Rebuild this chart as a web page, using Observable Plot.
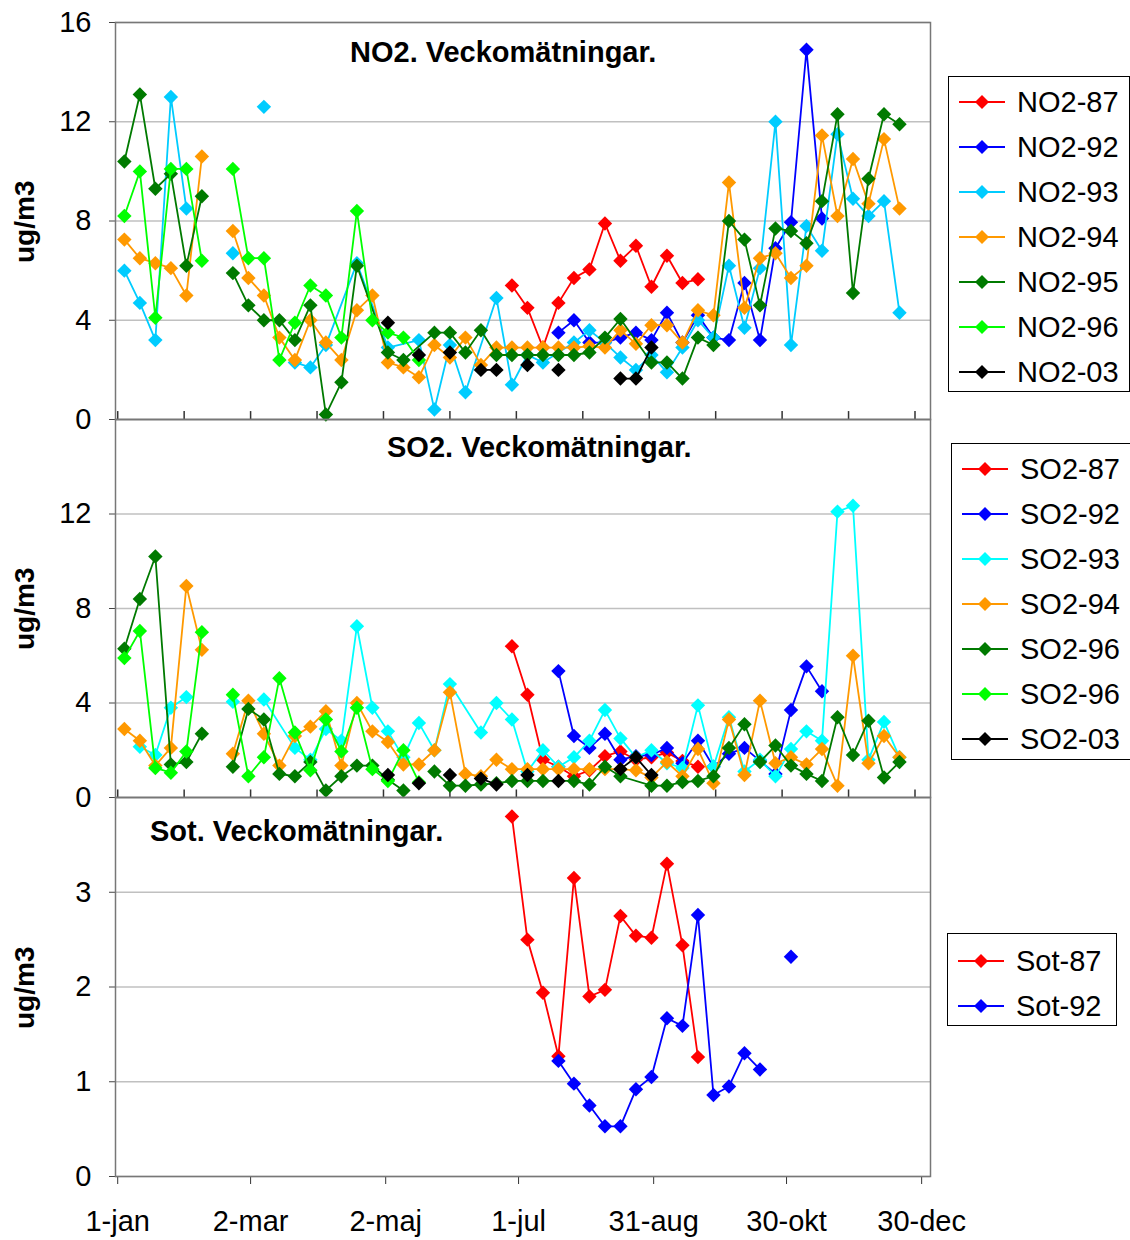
<!DOCTYPE html>
<html>
<head>
<meta charset="utf-8">
<script src="https://cdn.jsdelivr.net/npm/d3@7"></script>
<script src="https://cdn.jsdelivr.net/npm/@observablehq/plot@0.6"></script>
<style>
  body { margin: 0; background: #fff; font-family: "Liberation Sans", Arial, sans-serif; }
  #wrap { position: relative; width: 1130px; height: 1240px; overflow: hidden; }
  .panel { position: absolute; left: 0; }
  .ttl { position: absolute; font-weight: bold; font-size: 29px; white-space: nowrap; }
  .ylab { position: absolute; font-weight: bold; font-size: 28px; transform: rotate(-90deg); transform-origin: left top; white-space: nowrap; }
  .legend { position: absolute; border: 1px solid #000; background: #fff; box-sizing: border-box; }
  .legend .row { position: absolute; left: 8px; height: 30px; display: flex; align-items: center; font-size: 29px; }
  .legend svg { margin-right: 10px; }
</style>
</head>
<body>
<div id="wrap"></div>
<script>
// week index -> day of year: 3 + 7*w ; null = gap, 'x' = no point but line continues
const no2_87 = [5.4,4.5,2.9,4.7,5.7,6.05,7.9,6.4,7.0,5.35,6.6,5.5,5.65]            // from w25
const no2_92 = [3.5,4.0,3.1,3.1,3.3,3.5,3.2,4.3,3.1,4.2,3.3,3.2,5.5,3.2,6.9,7.95,14.9,8.1] // from w28
const no2_93 = [6.0,4.7,3.2,13.0,8.5,null,null,6.7,null,12.6,null,2.3,2.1,3.0,'x',6.3,'x',2.9,'x',3.2,0.4,3.0,1.1,'x',4.9,1.4,2.6,2.3,'x',3.1,3.6,3.1,2.5,2.0,2.6,1.9,2.9,4.0,3.3,6.2,3.7,6.1,12.0,3.0,7.8,6.8,11.5,8.9,8.2,8.8,4.3]
const no2_94 = [7.25,6.5,6.3,6.1,5.0,10.6,null,7.6,5.7,5.0,3.3,2.4,4.0,3.1,2.4,4.4,5.0,2.3,2.1,1.7,3.0,2.5,3.3,2.2,2.9,2.9,2.9,2.9,2.9,2.9,2.95,2.9,3.6,3.05,3.8,3.8,3.1,4.4,4.2,9.55,4.5,6.5,6.7,5.7,6.2,11.45,8.2,10.5,8.7,11.3,8.5]
const no2_95 = [10.4,13.1,9.3,9.9,6.2,9.0,null,5.9,4.6,4.0,4.0,3.2,4.6,0.2,1.5,6.2,'x',2.7,2.4,'x',3.5,3.5,2.7,3.6,2.6,2.6,2.6,2.6,2.6,2.6,2.7,3.3,4.05,'x',2.3,2.3,1.65,3.3,3.0,8.0,7.25,4.6,7.7,7.6,7.1,8.8,12.3,5.1,9.7,12.3,11.9]
const no2_96 = [8.2,10.0,4.1,10.1,10.1,6.4,null,10.1,6.5,6.5,2.4,3.9,5.4,5.0,3.3,8.4,4.0,3.5,3.3,2.4]
const no2_03 = [3.9,null,2.6,null,2.7,null,2.0,2.0,null,2.2,null,2.0,null,null,null,1.65,1.65,2.9] // from w17

const so2_87 = [6.4,4.35,1.6,1.3,0.9,1.15,1.75,1.95,1.6,1.7,1.9,1.55,1.3]          // from w25
const so2_92 = [5.35,2.6,2.1,2.7,1.6,1.75,1.8,2.1,1.45,2.4,1.3,1.85,2.1,1.55,1.0,3.7,5.55,4.5] // from w28
const so2_93 = [null,2.15,1.8,3.8,4.25,null,null,4.05,null,4.15,'x',2.1,1.6,2.9,2.4,7.25,3.8,2.8,1.7,3.15,2.0,4.8,'x',2.75,4.0,3.3,1.1,2.0,1.3,1.7,2.4,3.7,2.5,1.7,2.0,1.45,1.25,3.9,1.3,3.4,1.1,1.6,0.9,2.05,2.8,2.4,12.1,12.35,1.6,3.2,1.7]
const so2_94 = [2.9,2.4,1.35,2.1,8.95,6.25,null,1.85,4.1,2.7,1.35,2.6,3.0,3.65,1.35,4.0,2.8,2.35,1.4,1.4,2.0,4.45,1.0,0.9,1.6,1.2,1.2,1.2,1.2,1.2,1.2,1.2,1.2,1.15,0.85,1.5,0.9,2.05,0.6,3.3,0.95,4.1,1.45,1.7,1.4,2.05,0.5,6.0,1.45,2.6,1.7]
const so2_96 = [6.3,8.4,10.2,1.4,1.5,2.7,null,1.3,3.75,3.3,1.0,0.9,1.5,0.3,0.9,1.35,1.35,0.75,0.3,null,1.1,0.5,0.5,0.55,0.6,0.7,0.7,0.7,'x',0.7,0.55,1.3,0.9,'x',0.5,0.5,0.65,0.7,0.9,2.1,3.1,1.5,2.2,1.35,1.0,0.7,3.4,1.8,3.25,0.85,1.5]
const so2_96b = [5.9,7.05,1.25,1.05,1.95,7.0,null,4.35,0.9,1.7,5.05,2.75,1.15,3.3,1.95,3.8,1.2,0.7,2.0,0.65]
const so2_03 = [0.95,null,0.6,null,0.95,null,0.8,0.55,null,0.95,null,0.7,null,null,null,1.2,1.7,0.95] // from w17

const sot_87 = [3.8,2.5,1.94,1.27,3.15,1.9,1.97,2.75,2.54,2.52,3.3,2.44,1.26]     // from w25
const sot_92 = [1.22,0.98,0.75,0.53,0.53,0.92,1.05,1.67,1.59,2.76,0.86,0.95,1.3,1.13,null,2.32] // from w28

const tickDays = [0,60,121,181,242,302,363]
const tickNames = ['1-jan','2-mar','2-maj','1-jul','31-aug','30-okt','30-dec']
const monthDays = d3.range(0, 366, 30)

const panels = [
  {top: 0, h: 397, mt: 22, max: 16, ticks: [0,4,8,12,16], title: 'NO2. Veckomätningar.', tx: 350, ty: 36,
   legend: {x: 948, y: 76, w: 182, h: 316, ry: 25},
   series: [
    ['NO2-87', no2_87, 25, '#ff0000'], ['NO2-92', no2_92, 28, '#0000ff'], ['NO2-93', no2_93, 0, '#00ccff'],
    ['NO2-94', no2_94, 0, '#ff9900'], ['NO2-95', no2_95, 0, '#007a00'], ['NO2-96', no2_96, 0, '#00ff00'],
    ['NO2-03', no2_03, 17, '#000000']]},
  {top: 419, h: 378, mt: 0, max: 16, ticks: [0,4,8,12], title: 'SO2. Veckomätningar.', tx: 387, ty: 431,
   legend: {x: 951, y: 443, w: 182, h: 317, ry: 25},
   series: [
    ['SO2-87', so2_87, 25, '#ff0000'], ['SO2-92', so2_92, 28, '#0000ff'], ['SO2-93', so2_93, 0, '#00ffff'],
    ['SO2-94', so2_94, 0, '#ff9900'], ['SO2-96', so2_96, 0, '#007a00'], ['SO2-96', so2_96b, 0, '#00ff00'],
    ['SO2-03', so2_03, 17, '#000000']]},
  {top: 797, h: 379, mt: 0, max: 4, ticks: [0,1,2,3], title: 'Sot. Veckomätningar.', tx: 150, ty: 815,
   legend: {x: 947, y: 933, w: 170, h: 93, ry: 27}, last: true,
   series: [['Sot-87', sot_87, 25, '#ff0000'], ['Sot-92', sot_92, 28, '#0000ff']]}
]

const wrap = document.getElementById('wrap')

panels.forEach(p => {
  const marks = [
    Plot.gridY(p.ticks, {stroke: '#c0c0c0', strokeOpacity: 1, strokeWidth: 1.5}),
    Plot.axisY(p.ticks, {tickSize: 6, tickPadding: 18, fontSize: 29, stroke: '#444', label: null, tickFormat: d3.format('d')}),
  ]
  if (!p.last) marks.push(Plot.ruleX(monthDays, {y1: 0, y2: p.max * 0.02, stroke: '#333', strokeWidth: 1.5}))
  else marks.push(Plot.axisX(tickDays, {tickSize: 8, tickPadding: 26, fontSize: 29, label: null, tickFormat: (d, i) => tickNames[i], stroke: '#333'}))
  p.series.forEach(([name, vals, start, color]) => {
    const rows = vals.map((v, i) => ({day: 3 + 7 * (start + i), v}))
    const lineRows = rows.filter(d => d.v !== 'x').map(d => ({day: d.day, v: d.v == null ? NaN : d.v}))
    const pts = rows.filter(d => typeof d.v === 'number')
    marks.push(Plot.line(lineRows, {x: 'day', y: 'v', stroke: color, strokeWidth: 1.8}))
    marks.push(Plot.dot(pts, {x: 'day', y: 'v', symbol: 'diamond2', r: 6.5, fill: color, stroke: 'none'}))
  })
  marks.push(Plot.frame({stroke: '#777', strokeWidth: 1.5}))

  const chart = Plot.plot({
    width: 940,
    height: p.h + p.mt + (p.last ? 64 : 1),
    marginLeft: 115, marginRight: 10, marginTop: p.mt, marginBottom: p.last ? 64 : 1,
    x: {domain: [-1, 367], axis: null},
    y: {domain: [0, p.max], axis: null},
    style: {fontFamily: '"Liberation Sans", Arial, sans-serif', fontSize: '29px', color: '#000', overflow: 'visible'},
    marks
  })
  const box = document.createElement('div')
  box.className = 'panel'
  box.style.top = (p.top) + 'px'
  box.append(chart)
  wrap.append(box)

  const t = document.createElement('div')
  t.className = 'ttl'; t.textContent = p.title
  t.style.left = p.tx + 'px'; t.style.top = p.ty + 'px'
  wrap.append(t)

  const yl = document.createElement('div')
  yl.className = 'ylab'; yl.textContent = 'ug/m3'
  yl.style.left = '9px'; yl.style.top = (p.top + p.mt + p.h / 2 + 42) + 'px'
  wrap.append(yl)

  const L = p.legend
  const lg = document.createElement('div')
  lg.className = 'legend'
  Object.assign(lg.style, {left: L.x + 'px', top: L.y + 'px', width: L.w + 'px', height: L.h + 'px'})
  p.series.forEach(([name, , , color], i) => {
    const r = document.createElement('div')
    r.className = 'row'
    r.style.top = (L.ry - 15 + i * 45) + 'px'
    r.innerHTML = `<svg width="50" height="20"><line x1="2" x2="48" y1="10" y2="10" stroke="${color}" stroke-width="2"/><path d="M25 3 L32 10 L25 17 L18 10 Z" fill="${color}"/></svg>${name}`
    lg.append(r)
  })
  wrap.append(lg)
})
</script>
</body>
</html>
